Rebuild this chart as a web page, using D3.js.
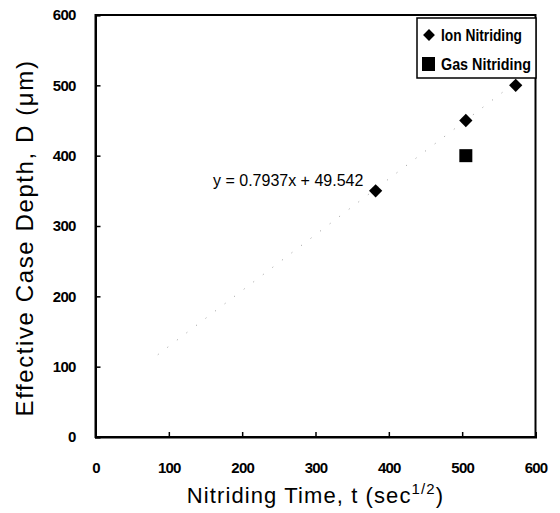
<!DOCTYPE html>
<html><head><meta charset="utf-8">
<script src="https://cdn.jsdelivr.net/npm/d3@7"></script>
<style>body{margin:0;background:#fff}svg{display:block}text{font-family:Arial,"Liberation Sans",sans-serif;fill:#000}</style>
</head><body><svg id="c" width="560" height="513"></svg>
<script>
const xTicks = [0,100,200,300,400,500,600];
const yTicks = [0,100,200,300,400,500,600];
const ionX = [382, 505, 573];
const ionY = [350, 450, 500];
const gasX = [505];
const gasY = [400];
const trendSlope = 0.7937, trendIntercept = 49.542;
const trendRange = [85, 573];
const trendLabel = "y = 0.7937x + 49.542";
const legendLabels = ["Ion Nitriding", "Gas Nitriding"];

const svg = d3.select("#c");
const m = {l:95.5, r:535.5, t:15, b:437};
const x = d3.scaleLinear().domain([0,600]).range([m.l, m.r]);
const y = d3.scaleLinear().domain([0,600]).range([m.b, m.t]);

// frame
svg.append("rect").attr("x",m.l).attr("y",m.t).attr("width",m.r-m.l).attr("height",m.b-m.t)
  .attr("fill","none").attr("stroke","#000").attr("stroke-width",2);

// axes (ticks inside)
const xa = svg.append("g").attr("transform",`translate(0,${m.b})`)
  .call(d3.axisBottom(x).tickValues(xTicks).tickSize(-5).tickPadding(25));
const ya = svg.append("g").attr("transform",`translate(${m.l},0)`)
  .call(d3.axisLeft(y).tickValues(yTicks).tickSize(-5).tickPadding(20));
[xa,ya].forEach(a=>{
  a.select(".domain").attr("stroke","#000").attr("stroke-width",2);
  a.selectAll(".tick line").attr("stroke","#000").attr("stroke-width",1.5);
  a.selectAll(".tick text").attr("font-size",15).attr("font-weight","bold").attr("fill","#000")
   .attr("letter-spacing",-0.8)
   .style("font-family","Arial, 'Liberation Sans', sans-serif");
});

// trendline (faint dotted)
svg.append("line")
  .attr("x1",x(trendRange[0])).attr("y1",y(trendSlope*trendRange[0]+trendIntercept))
  .attr("x2",x(trendRange[1])).attr("y2",y(trendSlope*trendRange[1]+trendIntercept))
  .attr("stroke","#999").attr("stroke-width",1).attr("stroke-dasharray","1,11");

svg.append("text").attr("x",213).attr("y",186).attr("font-size",16).text(trendLabel);

// points
svg.append("g").selectAll("path").data(ionX.map((v,i)=>[v,ionY[i]])).join("path")
  .attr("d", d3.symbol().type(d3.symbolSquare).size(88))
  .attr("transform",d=>`translate(${x(d[0])},${y(d[1])}) rotate(45)`).attr("fill","#000");
svg.append("g").selectAll("rect").data(gasX.map((v,i)=>[v,gasY[i]])).join("rect")
  .attr("x",d=>x(d[0])-6.5).attr("y",d=>y(d[1])-6.5).attr("width",13).attr("height",13).attr("fill","#000");

// legend
const lg = svg.append("g");
lg.append("rect").attr("x",417).attr("y",18).attr("width",119).attr("height",60)
  .attr("fill","#fff").attr("stroke","#000").attr("stroke-width",1.5);
lg.append("path").attr("d", d3.symbol().type(d3.symbolSquare).size(70))
  .attr("transform","translate(429,35) rotate(45)");
lg.append("rect").attr("x",422).attr("y",57).attr("width",13).attr("height",14);
lg.append("text").attr("x",441).attr("y",41).attr("font-size",16).attr("font-weight","bold")
  .attr("textLength",81).attr("lengthAdjust","spacingAndGlyphs").text(legendLabels[0]);
lg.append("text").attr("x",441).attr("y",70).attr("font-size",16).attr("font-weight","bold")
  .attr("textLength",90).attr("lengthAdjust","spacingAndGlyphs").text(legendLabels[1]);

// axis titles
const xt = svg.append("text").attr("x",(m.l+m.r)/2).attr("y",503).attr("text-anchor","middle")
  .attr("font-size",22).attr("letter-spacing",1.1);
xt.append("tspan").text("Nitriding Time, t (sec");
xt.append("tspan").attr("dy",-9).attr("font-size",15).text("1/2");
xt.append("tspan").attr("dy",9).text(")");
svg.append("text").attr("transform","translate(33,238) rotate(-90)").attr("text-anchor","middle")
  .attr("font-size",24).attr("letter-spacing",1.6).text("Effective Case Depth, D (μm)");
</script></body></html>
